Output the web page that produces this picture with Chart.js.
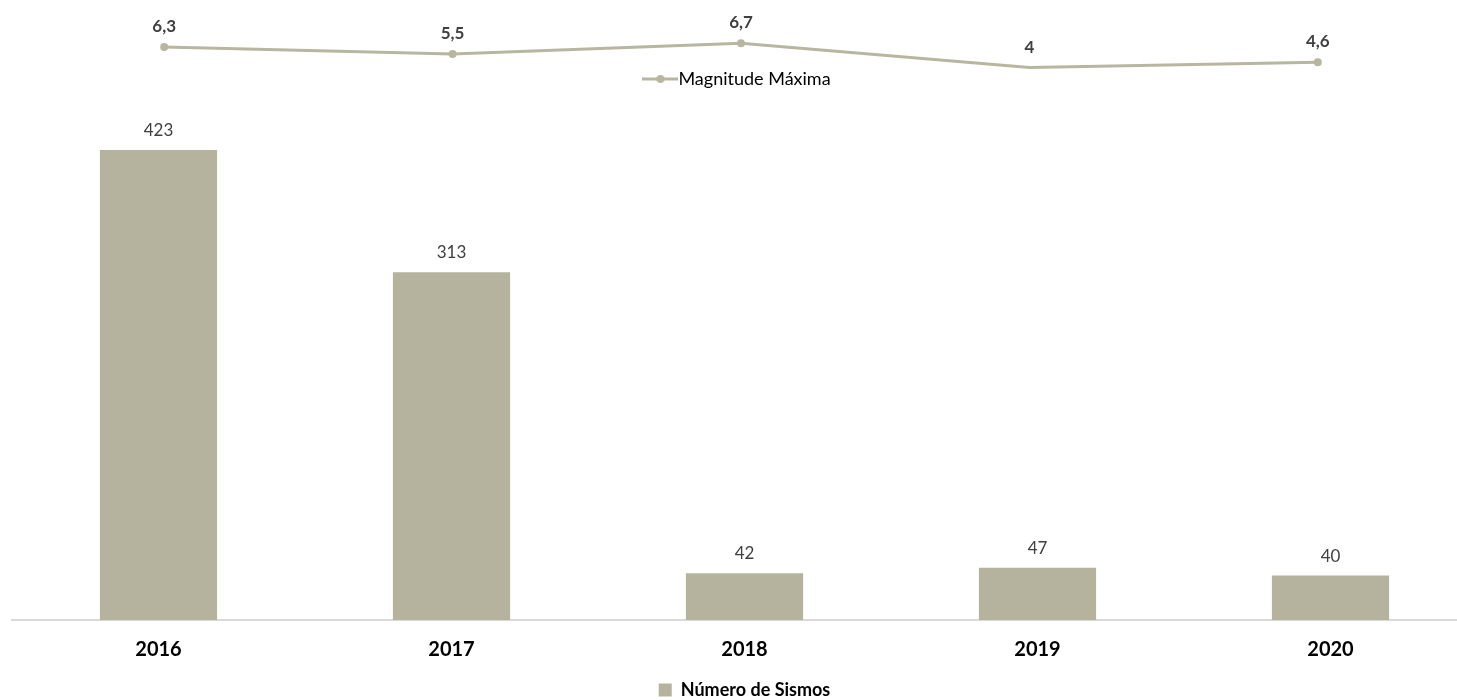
<!DOCTYPE html>
<html>
<head>
<meta charset="utf-8">
<script src="https://cdn.jsdelivr.net/npm/chart.js@4"></script>
<style>
  html, body { margin: 0; padding: 0; background: #fff; overflow: hidden; }
  #wrap { position: relative; width: 1457px; height: 700px; overflow: hidden; }
  canvas { position: absolute; left: 0; }
  #top { top: 0; }
  #bottom { top: 100px; }
</style>
</head>
<body>
<div id="wrap">
  <canvas id="top" width="1490" height="98"></canvas>
  <canvas id="bottom" width="1490" height="609"></canvas>
</div>
<script>
const YEARS = ['2016', '2017', '2018', '2019', '2020'];
const MAGNITUDE = [6.3, 5.5, 6.7, 4, 4.6];
const SISMOS = [423, 313, 42, 47, 40];

const LINE_COLOR = '#b8b6a1';
const BAR_COLOR = '#b5b39d';
const FONT = 'Lato, "Open Sans", sans-serif';

Chart.defaults.font.family = FONT;
Chart.defaults.animation = false;

// draws the value over each point / bar
const valueLabels = {
  id: 'valueLabels',
  afterDatasetsDraw(chart, args, opts) {
    const ctx = chart.ctx;
    chart.data.datasets.forEach((ds, i) => {
      const meta = chart.getDatasetMeta(i);
      meta.data.forEach((el, j) => {
        ctx.save();
        ctx.font = opts.font;
        ctx.fillStyle = opts.color;
        ctx.textAlign = 'center';
        ctx.textBaseline = 'alphabetic';
        ctx.fillText(String(ds.data[j]).replace('.', ','), el.x, el.y - opts.offset);
        ctx.restore();
      });
    });
  }
};

// legend marker: short line with a dot, like the Excel one
const lineMarker = document.createElement('canvas');
lineMarker.width = 36;
lineMarker.height = 10;
(function () {
  const c = lineMarker.getContext('2d');
  c.strokeStyle = LINE_COLOR;
  c.lineWidth = 3;
  c.beginPath();
  c.moveTo(0, 5);
  c.lineTo(36, 5);
  c.stroke();
  c.fillStyle = LINE_COLOR;
  c.beginPath();
  c.arc(18, 5, 4, 0, Math.PI * 2);
  c.fill();
})();

new Chart(document.getElementById('top'), {
  type: 'line',
  data: {
    labels: YEARS,
    datasets: [{
      label: 'Magnitude Máxima',
      data: MAGNITUDE,
      borderColor: LINE_COLOR,
      backgroundColor: LINE_COLOR,
      borderWidth: 3,
      pointRadius: 4,
      pointBackgroundColor: LINE_COLOR,
      pointBorderWidth: 0,
      clip: false
    }]
  },
  options: {
    responsive: false,
    devicePixelRatio: 1,
    layout: { padding: { left: 20, right: 28, top: 20, bottom: 0 } },
    scales: {
      x: { display: false, offset: true },
      y: { display: false, min: 4.62, max: 9.287 }
    },
    plugins: {
      legend: {
        position: 'bottom',
        labels: {
          usePointStyle: true,
          color: '#404040',
          font: { size: 18 },
          padding: 8,
          generateLabels: (chart) => [{
            text: 'Magnitude Máxima',
            pointStyle: lineMarker,
            fillStyle: LINE_COLOR,
            strokeStyle: LINE_COLOR,
            lineWidth: 0,
            datasetIndex: 0
          }]
        }
      },
      tooltip: { enabled: false },
      valueLabels: { font: 'bold 17px ' + FONT, color: '#404040', offset: 15 }
    }
  },
  plugins: [valueLabels]
});

new Chart(document.getElementById('bottom'), {
  type: 'bar',
  data: {
    labels: YEARS,
    datasets: [{
      label: 'Número de Sismos',
      data: SISMOS,
      backgroundColor: BAR_COLOR,
      barPercentage: 0.4,
      categoryPercentage: 1
    }]
  },
  options: {
    responsive: false,
    devicePixelRatio: 1,
    layout: { padding: { left: 12, right: 13, top: 10, bottom: 0 } },
    scales: {
      x: {
        grid: { display: false },
        border: { color: '#d9d9d9', width: 2 },
        ticks: { color: '#000', font: { size: 20, weight: 'bold' }, padding: 10 }
      },
      y: { display: false, min: 0, max: 459 }
    },
    plugins: {
      legend: {
        position: 'bottom',
        labels: {
          boxWidth: 13,
          boxHeight: 13,
          color: '#000',
          font: { size: 18, weight: 'bold' },
          padding: 9
        }
      },
      tooltip: { enabled: false },
      valueLabels: { font: '17px ' + FONT, color: '#404040', offset: 14 }
    }
  },
  plugins: [valueLabels]
});
</script>
</body>
</html>
